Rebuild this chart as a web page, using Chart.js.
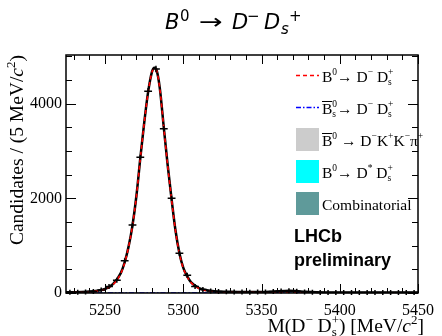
<!DOCTYPE html>
<html>
<head>
<meta charset="utf-8">
<script src="https://cdn.jsdelivr.net/npm/chart.js@4/dist/chart.umd.min.js"></script>
<style>
  body { margin: 0; background: #fff; }
  canvas { display: block; }
</style>
</head>
<body>
<canvas id="massChart" width="442" height="336"></canvas>
<script>
// 데이터 (5 MeV 빈 중심, 후보 수)
var massBins = [5227.5, 5232.5, 5237.5, 5242.5, 5247.5, 5252.5, 5257.5, 5262.5, 5267.5, 5272.5,
                5277.5, 5282.5, 5287.5, 5292.5, 5297.5, 5302.5, 5307.5, 5312.5, 5317.5, 5322.5,
                5327.5, 5332.5, 5337.5, 5342.5, 5347.5, 5352.5, 5357.5, 5362.5, 5367.5, 5372.5,
                5377.5, 5382.5, 5387.5, 5392.5, 5397.5, 5402.5, 5407.5, 5412.5, 5417.5, 5422.5,
                5427.5, 5432.5, 5437.5, 5442.5, 5447.5];
var candidates = [14, 18, 22, 32, 62, 140, 272, 680, 1435, 2870,
                  4265, 4735, 3470, 2000, 840, 375, 135, 72, 42, 30,
                  24, 20, 21, 18, 19, 22, 30, 42, 46, 36,
                  22, 16, 13, 12, 11, 12, 10, 9, 10, 9,
                  10, 8, 9, 8, 8];

// 피트 곡선
var fitMass = [5225, 5230, 5235, 5240, 5245, 5250, 5255, 5260, 5262.5, 5265,
               5267.5, 5270, 5272.5, 5275, 5277.5, 5280, 5281.5, 5283, 5285, 5287.5,
               5290, 5292.5, 5295, 5297.5, 5300, 5302.5, 5305, 5310, 5315, 5320,
               5330, 5340, 5350, 5355, 5360, 5365, 5368, 5372, 5378, 5385,
               5395, 5410, 5430, 5450];
var totalFit = [14, 17, 21, 30, 48, 85, 185, 420, 650, 980,
                1430, 2050, 2850, 3600, 4250, 4680, 4760, 4700, 4320, 3500,
                2700, 1980, 1320, 840, 530, 350, 225, 105, 58, 38,
                24, 20, 22, 27, 36, 44, 46, 40, 27, 17,
                12, 10, 9, 8];
var signalFit = [5, 8, 12, 21, 39, 76, 176, 411, 641, 971,
                 1421, 2041, 2841, 3591, 4241, 4671, 4751, 4691, 4311, 3491,
                 2691, 1971, 1311, 831, 521, 341, 216, 96, 49, 29,
                 15, 10, 7, 6, 5, 4, 4, 3, 3, 2,
                 2, 1, 1, 1];
var bsFit = [0, 0, 0, 0, 0, 0, 0, 0, 0, 0,
             0, 0, 0, 0, 0, 0, 0, 0, 0, 0,
             0, 0, 0, 0, 0, 0, 0, 0, 0, 0,
             0, 0, 2, 6, 15, 24, 26, 20, 9, 3,
             0.5, 0, 0, 0];
var kkpiFit = [2, 2, 3, 4, 6, 9, 12, 15, 16, 17,
               17, 18, 18, 18, 18, 17, 17, 17, 16, 15,
               14, 12, 10, 8, 6, 5, 4, 2, 1, 1,
               0, 0, 0, 0, 0, 0, 0, 0, 0, 0,
               0, 0, 0, 0];
var dstarFit = [4, 3, 2, 1.5, 1, 0.5, 0.2, 0, 0, 0,
                0, 0, 0, 0, 0, 0, 0, 0, 0, 0,
                0, 0, 0, 0, 0, 0, 0, 0, 0, 0,
                0, 0, 0, 0, 0, 0, 0, 0, 0, 0,
                0, 0, 0, 0];
var combFit = [9, 9, 9, 9, 9, 9, 9, 9, 9, 9,
               9, 9, 9, 9, 8, 8, 8, 8, 8, 8,
               8, 8, 8, 8, 8, 8, 8, 8, 8, 8,
               8, 8, 8, 8, 8, 8, 8, 8, 8, 7,
               7, 7, 7, 7];

// 축 눈금 라벨
var xTickValues = [5250, 5300, 5350, 5400, 5450];
var yTickValues = [0, 2000, 4000];

var serif = '"Liberation Serif", "Times New Roman", serif';
var sans = '"Liberation Sans", Arial, sans-serif';

function toPoints(xs, ys) {
    var pts = [];
    for (var i = 0; i < xs.length; i++) {
        pts.push({x: xs[i], y: ys[i]});
    }
    return pts;
}

// 위/아래 첨자가 섞인 글자 그리기
function drawParts(ctx, x, y, parts, baseFont) {
    var keepW = 0;
    parts.forEach(function(p) {
        ctx.font = p.font || baseFont;
        var w = ctx.measureText(p.t).width;
        if (p.at !== undefined) x = p.at;
        if (p.sx) {
            // 가로로 늘인 글자 (화살표)
            ctx.save();
            ctx.translate(x, y + (p.dy || 0));
            ctx.scale(p.sx, 1);
            ctx.fillText(p.t, 0, 0);
            ctx.restore();
            w = w * p.sx;
        } else {
            ctx.fillText(p.t, x, y + (p.dy || 0));
        }
        if (p.bar) {
            ctx.save();
            ctx.lineWidth = 1;
            ctx.beginPath();
            ctx.moveTo(x, y - p.bar);
            ctx.lineTo(x + w, y - p.bar);
            ctx.stroke();
            ctx.restore();
        }
        if (p.keep) {
            keepW = w;
            return;
        }
        x += Math.max(w, keepW) + (p.gap || 0);
        keepW = 0;
    });
    return x;
}

function partsWidth(ctx, parts, baseFont) {
    var w = 0, keepW = 0;
    parts.forEach(function(p) {
        ctx.font = p.font || baseFont;
        var pw = ctx.measureText(p.t).width;
        if (p.keep) { keepW = pw; return; }
        w += Math.max(pw, keepW) + (p.gap || 0);
        keepW = 0;
    });
    return w;
}

var legFont = '15.5px ' + serif;
var legSmall = '9.5px ' + serif;
function sup(t) { return {t: t, font: legSmall, dy: -7}; }
function sub(t) { return {t: t, font: legSmall, dy: 3, keep: true}; }

var legendRows = [
    {kind: 'line', color: '#ff0000', dash: [4, 3], parts: [{t: 'B'}, sup('0'), {t: '\u2192 D'}, sup('\u2212'), {t: ' D'}, sub('s'), sup('+')]},
    {kind: 'line', color: '#0000ff', dash: [5, 2, 1.5, 2], parts: [{t: 'B', bar: 12}, sub('s'), sup('0'), {t: '\u2192 D'}, sup('\u2212'), {t: ' D'}, sub('s'), sup('+')]},
    {kind: 'box', color: '#cccccc', parts: [{t: 'B', bar: 12}, sup('0'), {t: ' \u2192 D'}, sup('\u2212'), {t: 'K'}, sup('+'), {t: 'K'}, sup('\u2212'), {t: '\u03c0'}, sup('+')]},
    {kind: 'box', color: '#00ffff', parts: [{t: 'B'}, sup('0'), {t: '\u2192 D'}, sup('*'), {t: ' D'}, sub('s'), sup('+')]},
    {kind: 'box', color: '#5f9a9a', parts: [{t: 'Combinatorial'}]}
];

var decorPlugin = {
    id: 'decor',
    afterDatasetsDraw: function(chart) {
        var ctx = chart.ctx;
        var xs = chart.scales.x, ys = chart.scales.y;
        var a = chart.chartArea;

        // 데이터 점과 오차 막대
        var meta = chart.getDatasetMeta(chart.data.datasets.length - 1);
        ctx.save();
        ctx.strokeStyle = '#000';
        ctx.lineWidth = 1.5;
        meta.data.forEach(function(el, i) {
            var m = massBins[i], v = candidates[i];
            var hx = xs.getPixelForValue(m + 2.5) - el.x;
            var err = Math.sqrt(v);
            var ey = Math.max(ys.getPixelForValue(v - err) - el.y, 2.5);
            ctx.beginPath();
            ctx.moveTo(el.x - hx, el.y);
            ctx.lineTo(el.x + hx, el.y);
            ctx.moveTo(el.x, el.y - ey);
            ctx.lineTo(el.x, el.y + ey);
            ctx.stroke();
        });
        ctx.restore();

        // 프레임과 눈금
        ctx.save();
        ctx.strokeStyle = '#000';
        ctx.lineWidth = 1.5;
        ctx.strokeRect(a.left, a.top, a.right - a.left, a.bottom - a.top);
        ctx.lineWidth = 1;
        ctx.beginPath();
        for (var m = 5230; m <= 5450; m += 10) {
            var px = Math.round(xs.getPixelForValue(m)) + 0.5;
            var len = (m % 50 === 0) ? 9 : 5;
            ctx.moveTo(px, a.bottom); ctx.lineTo(px, a.bottom - len);
            ctx.moveTo(px, a.top); ctx.lineTo(px, a.top + len);
        }
        for (var v = 0; v <= 5000; v += 500) {
            var py = Math.round(ys.getPixelForValue(v)) + 0.5;
            var ylen = (v % 2000 === 0) ? 10 : 6;
            ctx.moveTo(a.left, py); ctx.lineTo(a.left + ylen, py);
            ctx.moveTo(a.right, py); ctx.lineTo(a.right - ylen, py);
        }
        ctx.stroke();
        ctx.restore();

        // 범례
        ctx.save();
        ctx.fillStyle = '#000';
        ctx.strokeStyle = '#000';
        ctx.textBaseline = 'alphabetic';
        legendRows.forEach(function(row, i) {
            var cy = 75.5 + i * 32;
            if (row.kind === 'line') {
                ctx.save();
                ctx.strokeStyle = row.color;
                ctx.lineWidth = 1.5;
                ctx.setLineDash(row.dash);
                ctx.beginPath();
                ctx.moveTo(296, cy);
                ctx.lineTo(319, cy);
                ctx.stroke();
                ctx.restore();
            } else {
                ctx.fillStyle = row.color;
                ctx.fillRect(296, cy - 11.5, 23, 23);
                ctx.fillStyle = '#000';
            }
            drawParts(ctx, 322, cy + 6, row.parts, legFont);
        });

        // LHCb 라벨
        ctx.font = 'bold 18px ' + sans;
        ctx.fillText('LHCb', 294, 242);
        ctx.fillText('preliminary', 294, 266);

        // 제목
        var it = 'italic 21px "DejaVu Sans", sans-serif';
        var up = '21px "DejaVu Sans", sans-serif';
        var smIt = 'italic 15px "DejaVu Sans", sans-serif';
        var sm = '15px "DejaVu Sans", sans-serif';
        drawParts(ctx, 165, 29, [
            {t: 'B', font: it, at: 165}, {t: '0', font: sm, dy: -8, at: 180},
            {t: '\u2192', font: up, at: 199, sx: 1.35},
            {t: 'D', font: it, at: 232}, {t: '\u2212', font: sm, dy: -8, at: 247},
            {t: 'D', font: it, at: 264}, {t: 's', font: smIt, dy: 5, at: 281}, {t: '+', font: sm, dy: -8, at: 289}
        ], up);

        // x축 제목
        var axFont = '19.5px ' + serif;
        var axSmall = '13px ' + serif;
        var xTitle = [
            {t: 'M(D'}, {t: '\u2212', font: axSmall, dy: -8}, {t: ' D'},
            {t: 's', font: axSmall, dy: 4, keep: true}, {t: '+', font: axSmall, dy: -8},
            {t: ') [MeV/'}, {t: 'c', font: 'italic 19.5px ' + serif}, {t: '2', font: axSmall, dy: -8}, {t: ']'}
        ];
        var xw = partsWidth(ctx, xTitle, axFont);
        drawParts(ctx, 424 - xw, 332, xTitle, axFont);

        // y축 제목
        var yTitle = [
            {t: 'Candidates / (5 MeV/'}, {t: 'c', font: 'italic 19.5px ' + serif},
            {t: '2', font: axSmall, dy: -8}, {t: ')'}
        ];
        var yw = partsWidth(ctx, yTitle, axFont);
        ctx.translate(23, a.top + yw);
        ctx.rotate(-Math.PI / 2);
        drawParts(ctx, 0, 0, yTitle, axFont);
        ctx.restore();
    }
};

var ctx = document.getElementById('massChart').getContext('2d');
var myChart = new Chart(ctx, {
    type: 'line',
    data: {
        datasets: [
            {
                label: 'B0 -> D- Ds+',
                data: toPoints(fitMass, signalFit),
                borderColor: '#ff0000',
                borderWidth: 1.6,
                borderDash: [4, 3],
                pointRadius: 0,
                fill: false,
                cubicInterpolationMode: 'monotone',
                order: 1
            },
            {
                label: 'Total fit',
                data: toPoints(fitMass, totalFit),
                borderColor: '#000000',
                borderWidth: 2.5,
                pointRadius: 0,
                fill: false,
                cubicInterpolationMode: 'monotone',
                order: 2
            },
            {
                label: 'Bs0bar -> D- Ds+',
                data: toPoints(fitMass, bsFit),
                borderColor: '#0000ff',
                borderWidth: 1.5,
                borderDash: [5, 2, 1.5, 2],
                pointRadius: 0,
                fill: false,
                cubicInterpolationMode: 'monotone',
                order: 3
            },
            {
                label: 'B0bar -> D- K+ K- pi+',
                data: toPoints(fitMass, kkpiFit),
                borderColor: '#cccccc',
                backgroundColor: '#cccccc',
                borderWidth: 0,
                pointRadius: 0,
                fill: 'origin',
                cubicInterpolationMode: 'monotone',
                order: 4
            },
            {
                label: 'B0 -> D* Ds+',
                data: toPoints(fitMass, dstarFit),
                borderColor: '#00ffff',
                backgroundColor: '#00ffff',
                borderWidth: 0,
                pointRadius: 0,
                fill: 'origin',
                cubicInterpolationMode: 'monotone',
                order: 5
            },
            {
                label: 'Combinatorial',
                data: toPoints(fitMass, combFit),
                borderColor: '#5f9a9a',
                backgroundColor: '#5f9a9a',
                borderWidth: 1,
                pointRadius: 0,
                fill: 'origin',
                order: 6
            },
            {
                label: 'Data',
                data: toPoints(massBins, candidates),
                showLine: false,
                pointRadius: 0,
                order: 0
            }
        ]
    },
    options: {
        responsive: false,
        animation: false,
        devicePixelRatio: 1,
        layout: { padding: { top: 55, right: 18, left: 0, bottom: 0 } },
        plugins: {
            legend: { display: false },
            tooltip: { enabled: false },
            title: { display: false }
        },
        scales: {
            x: {
                type: 'linear',
                min: 5225,
                max: 5450,
                grid: { display: false, drawTicks: false },
                border: { display: false },
                afterBuildTicks: function(scale) {
                    scale.ticks = xTickValues.map(function(v) { return {value: v}; });
                },
                afterFit: function(scale) { scale.height = 43; },
                ticks: {
                    color: '#000',
                    padding: 8,
                    maxRotation: 0,
                    font: { family: serif, size: 16 },
                    callback: function(v) { return String(v); }
                }
            },
            y: {
                type: 'linear',
                min: 0,
                max: 5030,
                grid: { display: false, drawTicks: false },
                border: { display: false },
                afterBuildTicks: function(scale) {
                    scale.ticks = yTickValues.map(function(v) { return {value: v}; });
                },
                afterFit: function(scale) { scale.width = 66; },
                ticks: {
                    color: '#000',
                    padding: 4,
                    font: { family: serif, size: 16 },
                    callback: function(v) { return String(v); }
                }
            }
        }
    },
    plugins: [decorPlugin]
});
</script>
</body>
</html>
